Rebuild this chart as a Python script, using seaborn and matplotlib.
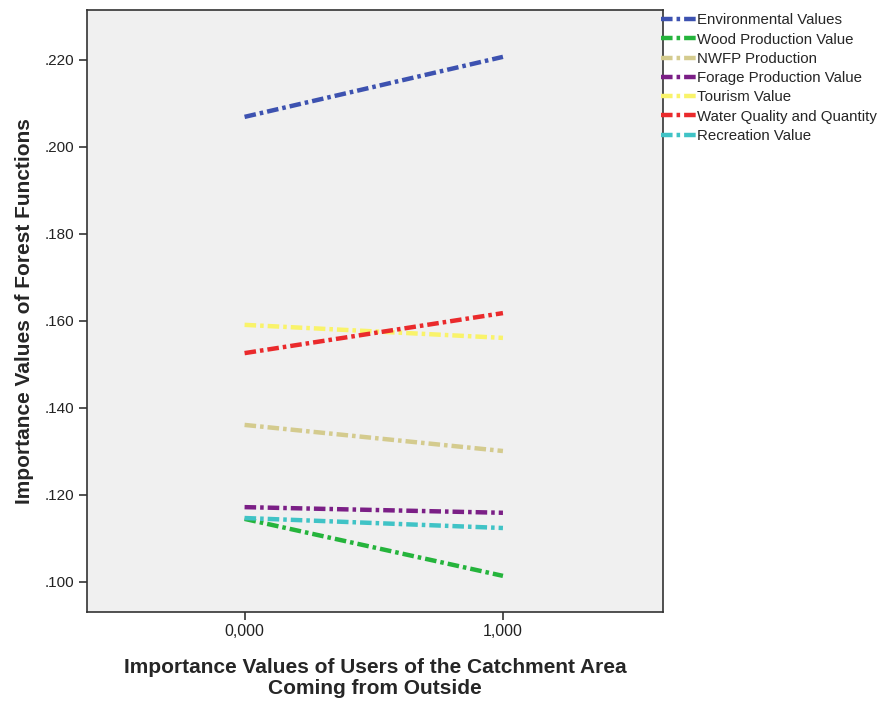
import matplotlib
matplotlib.use("Agg")
import matplotlib.pyplot as plt
import seaborn as sns
import pandas as pd

x_values = [0, 1]
x_labels = ["0,000", "1,000"]
functions = ["Environmental Values", "Wood Production Value", "NWFP Production",
             "Forage Production Value", "Tourism Value", "Water Quality and Quantity",
             "Recreation Value"]
env = [0.2069, 0.2207]
wood = [0.1145, 0.1014]
nwfp = [0.1361, 0.1301]
forage = [0.1172, 0.1159]
tourism = [0.1591, 0.1561]
water = [0.1526, 0.1618]
recreation = [0.1147, 0.1124]
colors = ["#3d52b0", "#25b43c", "#d4cb8e", "#7b1f86", "#f9f36a", "#ea2a2c", "#40c3c6"]
y_ticks = [0.100, 0.120, 0.140, 0.160, 0.180, 0.200, 0.220]

series = [env, wood, nwfp, forage, tourism, water, recreation]
df = pd.DataFrame({
    "x": x_values * len(functions),
    "y": [v for s in series for v in s],
    "function": [f for f in functions for _ in x_values],
})

sns.set_style("white")
plt.rcParams["font.family"] = ["Liberation Sans", "DejaVu Sans"]

fig = plt.figure(figsize=(8.83, 7.04), dpi=100)
ax = fig.add_axes([0.0985, 0.1307, 0.6525, 0.8553])
ax.set_facecolor("#f0f0f0")

dash = (2.6, 0.9, 0.8, 0.9)
sns.lineplot(data=df, x="x", y="y", hue="function", style="function",
             hue_order=functions, style_order=functions,
             palette=dict(zip(functions, colors)),
             dashes={f: dash for f in functions},
             linewidth=3.2, ax=ax, legend=True)

ax.set_xlim(-0.61, 1.62)
ax.set_ylim(0.0931, 0.2315)
ax.set_xticks(x_values)
ax.set_xticklabels(x_labels, fontsize=11.5, color="#222222")
ax.set_yticks(y_ticks)
ax.set_yticklabels([f"{t:.3f}"[1:] for t in y_ticks], fontsize=11, color="#222222")
ax.tick_params(axis="both", direction="out", length=6, width=1.2, color="#333333",
               left=True, bottom=True, pad=3)
for sp in ax.spines.values():
    sp.set_color("#333333")
    sp.set_linewidth(1.2)

ax.set_xlabel("Importance Values of Users of the Catchment Area\nComing from Outside",
              fontsize=15, fontweight="bold", labelpad=13, linespacing=1.15)
ax.set_ylabel("Importance Values of Forest Functions", fontsize=15,
              fontweight="bold", labelpad=8)

handles, labels = ax.get_legend_handles_labels()
ax.legend(handles, labels, loc="upper left", bbox_to_anchor=(0.749, 0.981),
          bbox_transform=fig.transFigure, frameon=False, fontsize=10.8,
          handlelength=2.3, handletextpad=0.05, labelspacing=0.35, borderaxespad=0,
          borderpad=0)

fig.savefig("out.png", dpi=100)
